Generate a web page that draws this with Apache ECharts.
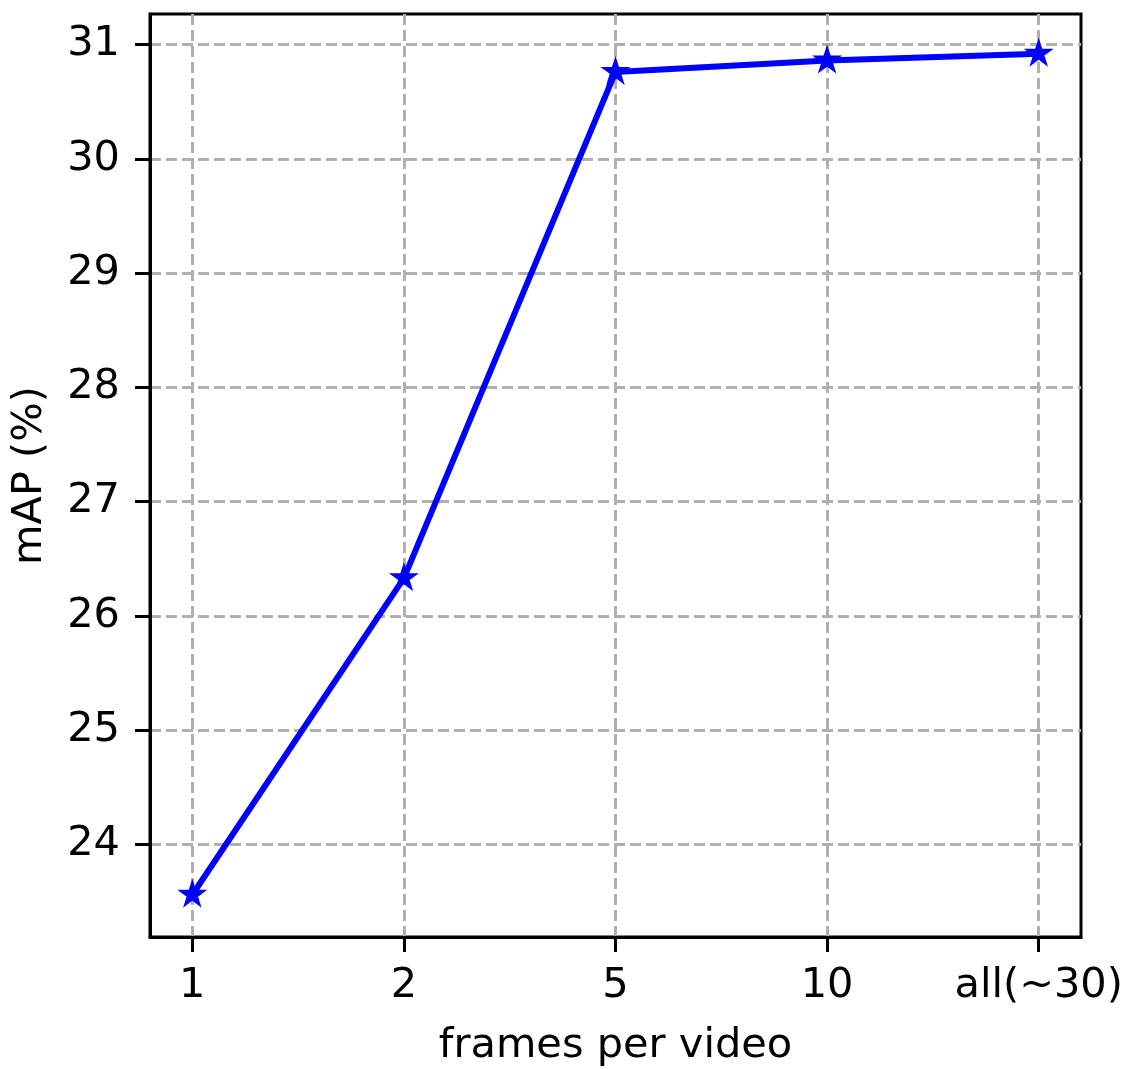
<!DOCTYPE html>
<html>
<head>
<meta charset="utf-8">
<script src="https://cdn.jsdelivr.net/npm/echarts@6/dist/echarts.min.js"></script>
<style>
  html, body { margin: 0; padding: 0; background: #fff; }
  #chart { width: 1124px; height: 1069px; }
</style>
</head>
<body>
<div id="chart"></div>
<script>
// frames per video vs mAP
const frameLabels = ['1', '2', '5', '10', 'all(~30)']
const mapValues = [23.56, 26.33, 30.76, 30.86, 30.92]
const yTicks = [24, 25, 26, 27, 28, 29, 30, 31]

const xPositions = frameLabels.map((_, i) => i)
const starPath = 'path://M100,0 L122.45,69.1 L195.1,69.1 L136.3,111.8 L158.8,180.9 L100,138.2 L41.2,180.9 L63.7,111.8 L4.9,69.1 L77.55,69.1 Z'
const font = 'DejaVu Sans'
const gridLine = { color: '#b0b0b0', width: 3, type: [11, 5] }

const chart = echarts.init(document.getElementById('chart'))
chart.setOption({
  animation: false,
  backgroundColor: '#fff',
  grid: {
    left: 150,
    top: 14,
    right: 43,
    bottom: 132,
    outerBoundsMode: 'none',
    containLabel: false,
    show: true,
    borderColor: '#000',
    borderWidth: 3
  },
  xAxis: {
    type: 'value',
    min: -0.2,
    max: 4.2,
    name: 'frames per video',
    nameLocation: 'middle',
    nameGap: 88,
    nameTextStyle: { fontFamily: font, fontSize: 41.5, color: '#000' },
    axisLine: { show: true, onZero: false, lineStyle: { color: '#000', width: 3 } },
    axisTick: { show: true, length: 15, customValues: xPositions, lineStyle: { color: '#000', width: 3 } },
    axisLabel: {
      customValues: xPositions,
      formatter: v => frameLabels[Math.round(v)],
      fontFamily: font,
      fontSize: 41.5,
      color: '#000',
      margin: 28
    },
    splitLine: { show: true, lineStyle: gridLine }
  },
  yAxis: {
    type: 'value',
    min: 23.19,
    max: 31.267,
    name: 'mAP (%)',
    nameLocation: 'middle',
    nameGap: 99,
    nameTextStyle: { fontFamily: font, fontSize: 41.5, color: '#000' },
    axisLine: { show: true, onZero: false, lineStyle: { color: '#000', width: 3 } },
    axisTick: { show: true, length: 15, customValues: yTicks, lineStyle: { color: '#000', width: 3 } },
    axisLabel: {
      customValues: yTicks,
      fontFamily: font,
      fontSize: 41.5,
      color: '#000',
      margin: 30
    },
    splitLine: { show: true, lineStyle: gridLine }
  },
  series: [{
    type: 'line',
    data: xPositions.map((x, i) => [x, mapValues[i]]),
    symbol: starPath,
    symbolSize: [30, 29],
    symbolOffset: [0, -1.5],
    lineStyle: { color: '#0000ff', width: 6 },
    itemStyle: { color: '#0000ff' },
    z: 5
  }]
})
</script>
</body>
</html>
